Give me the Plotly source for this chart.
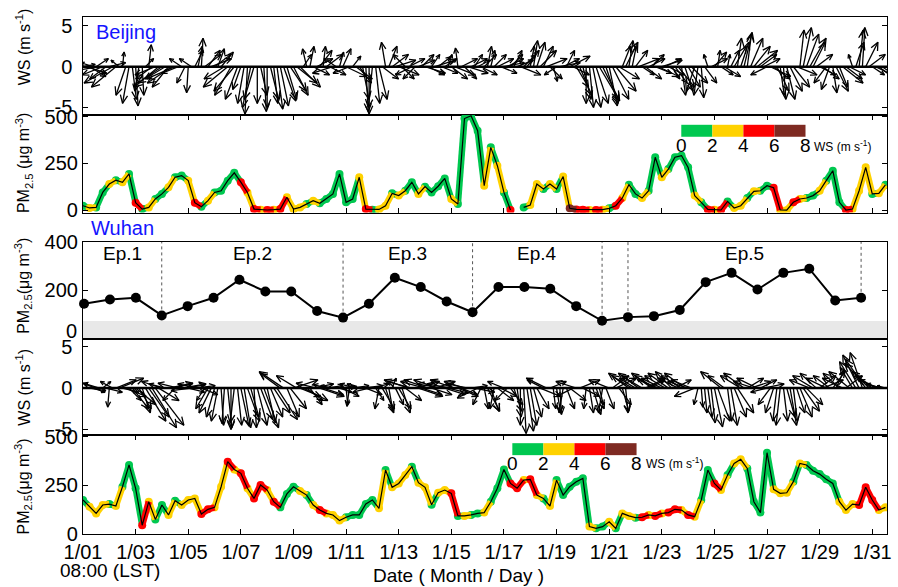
import math
import plotly.graph_objects as go

# ---------------- data ----------------
# series sampled every 6 h, starting 1/01 08:00 LST (hours since start)
hours = list(range(0, 733, 6))
# extra wind readings taken half-way (3 h later) between the 6-hourly ones
hours_mid = list(range(3, 730, 6))

bj_pm = [24, 12, 15, 95, 140, 160, 149, 194, 40, 6,
         15, 60, 87, 122, 176, 185, 158, 40, 19, 51,
         95, 104, 158, 200, 150, 95, 6, 3, 1, 3,
         6, 69, 6, 15, 33, 51, 37, 60, 87, 194,
         42, 60, 176, 6, 3, 4, 24, 90, 78, 104,
         149, 87, 126, 95, 128, 170, 60, 33, 490, 505,
         425, 131, 336, 238, 95, 1, None, 15, 28, 140,
         113, 140, 113, 180, 10, 4, 3, 1, 1, 3,
         10, 24, 65, 136, 87, 65, 104, 283, 176, 220,
         283, 292, 229, 78, 42, 4, 3, 1, 47, 12,
         24, 65, 101, 104, 131, 120, 1, 0, 42, 60,
         65, 78, 104, 158, 211, 42, 1, 6, 104, 229,
         87, 90, 136]
bj_ws = [1, 3, 1, 1, 3, 1, 3, 1, 5, 1,
         3, 1, 1, 3, 1, 1, 3, 5, 1, 3,
         1, 1, 1, 1, 5, 3, 5, 3, 5, 3,
         5, 3, 3, 3, 1, 3, 1, 1, 1, 1,
         1, 1, 3, 5, 1, 3, 3, 1, 3, 1,
         1, 3, 1, 1, 1, 1, 3, 1, 1, 1,
         1, 3, 1, 3, 1, 5, None, 1, 3, 3,
         1, 3, 1, 3, 7, 5, 5, 3, 5, 3,
         1, 5, 3, 1, 1, 3, 1, 1, 3, 1,
         1, 1, 1, 3, 1, 5, 3, 5, 1, 3,
         3, 1, 3, 1, 1, 5, 3, 3, 5, 3,
         1, 1, 3, 1, 1, 1, 5, 3, 3, 3,
         1, 3, 1]
bj_u = [1.5, 2.0, 1.5, -2.5, 2.0, -3.0, 0.2, -0.8, 0.3, 0.2,
        0.3, -2.5, -3.0, -2.0, -3.5, -1.5, -0.2, 1.0, 0.2, 1.5,
        2.0, 1.5, -3.0, -2.5, -1.0, -0.3, -1.2, 0.8, 0.0, 0.5,
        1.0, 1.2, 1.8, 2.5, -0.5, 2.0, 1.5, 2.0, -2.5, 0.5,
        2.5, 1.0, 1.5, 0.3, -0.5, 1.0, -0.5, 2.0, 2.5, -1.5,
        -2.0, 2.0, 2.5, 1.0, 1.5, 1.5, 2.0, -0.3, 1.5, 2.0,
        1.5, 1.5, 0.5, 2.0, 2.5, 1.5, 2.0, 1.5, 0.5, 1.0,
        1.2, 1.5, -1.5, 2.0, 2.5, 1.5, 1.0, 0.5, 1.5, 2.0,
        1.0, 2.5, 1.0, 0.5, 1.5, 1.5, 2.0, 2.0, 2.5, 2.0,
        1.5, 0.5, 1.5, -1.0, 0.3, -0.5, 1.5, 1.5, 0.3, 1.5,
        1.0, 0.5, 2.0, 2.0, -2.0, 2.0, 0.5, 1.0, 2.0, 0.5,
        1.5, 1.5, 2.0, -1.5, 0.5, 1.0, 2.0, -0.5, 0.5, 1.5,
        1.5, 2.0, 1.0]
bj_v = [0.3, -1.2, 1.0, -1.0, 0.5, -2.5, 1.8, -4.5, -4.8, -3.5,
        2.7, -1.0, -2.0, -2.5, -1.5, 1.0, -3.2, 2.0, 3.5, 2.0,
        1.5, 1.8, -2.5, -3.0, -2.8, -5.8, -4.0, -3.5, -5.0, -4.5,
        -4.8, -4.0, -3.5, -2.5, 2.2, -1.0, 2.0, 1.5, -0.8, 1.8,
        -1.2, 1.3, -2.0, -5.5, -5.0, -4.0, 3.0, 1.5, -1.0, 1.5,
        -1.0, 0.8, -0.8, 1.5, 1.2, 1.0, -1.5, 2.3, -1.5, 1.0,
        0.8, 1.5, 2.0, 1.0, 0.5, 1.5, 0.8, 1.5, 2.5, 3.0,
        2.5, -1.5, -1.0, 1.0, 1.3, -2.5, -4.0, -5.0, -4.5, -4.0,
        -4.8, -3.0, 2.5, 3.2, 2.0, -1.0, 1.0, -0.8, 0.8, -1.0,
        -2.0, -3.5, -2.5, -3.0, -3.8, 1.5, 1.8, -1.0, 1.5, 2.5,
        3.0, 4.0, 2.5, 1.5, -1.0, -1.5, -3.5, -4.0, -2.5, 4.5,
        4.0, 3.0, -1.0, -2.0, -3.2, -2.5, -1.5, 1.5, 4.5, 3.0,
        -1.0, -1.5, -0.5]
bj_u_mid = [2.5, -1.5, -3.0, -2.0, -3.5, -1.0, -1.2, 0.5, -0.5, 1.0,
            -2.0, -3.0, -2.5, -3.0, -2.0, -1.0, -1.5, 0.5, 2.0, 2.5,
            0.8, -2.5, -2.0, -1.5, -0.8, -1.0, 0.0, 0.3, 1.0, 0.7,
            1.5, 2.0, 2.5, 1.0, 0.5, 2.0, 0.3, 2.0, -1.5, 1.0,
            -2.0, 2.0, 0.8, 0.0, 0.5, 2.0, 1.0, 2.5, 1.5, 2.0,
            -1.5, 1.5, 2.0, 2.5, 2.0, 0.5, 2.5, 2.0, 2.5, 1.0,
            2.0, 0.5, 1.5, 2.0, 2.0, 1.0, 2.5, 1.5, 0.5, 2.0,
            2.5, 0.5, 2.5, 1.0, 2.0, 1.5, 0.0, 1.0, 2.5, 1.5,
            2.0, 2.5, 1.5, 0.5, 2.5, 2.0, 1.5, 2.5, 2.0, 1.0,
            2.0, 1.0, 2.0, -0.5, 1.5, 2.0, 0.3, 2.0, 1.0, 0.5,
            1.0, 1.5, 2.5, 2.0, 2.5, 1.5, 0.3, 1.5, 2.5, 1.0,
            2.0, 2.0, 2.0, -1.0, 1.5, 2.5, 2.0, 1.0, 0.3, 2.0,
            2.5, 1.5]
bj_v_mid = [-0.8, 0.5, -0.5, -1.5, -2.0, 0.8, -3.5, -4.0, -3.0, 1.0,
            -1.5, -2.5, -1.5, -2.0, -0.8, -2.0, 1.0, 2.5, 1.5, 1.0,
            2.2, -1.5, -3.5, -4.0, -4.5, -5.0, -4.5, -5.5, -4.0, -5.2,
            -4.2, -3.0, -2.0, 1.5, 2.5, 1.0, 2.5, -1.0, 1.0, 2.2,
            -0.8, -1.5, -4.0, -5.8, -4.5, -1.5, 2.5, 0.8, -1.5, 1.0,
            -1.5, 1.5, -1.0, 0.8, -0.8, 1.5, -1.0, 1.0, -0.8, 1.5,
            -1.0, 2.5, 1.5, -0.8, 1.0, 2.0, -1.0, 2.0, 3.2, 2.0,
            1.0, -1.8, 0.5, 2.0, -1.0, -3.5, -4.5, -5.0, -4.2, -4.5,
            -4.0, -1.5, 3.0, 2.5, 1.0, -1.5, 1.5, -1.2, 1.0, -1.5,
            -2.5, -3.0, -2.0, -3.5, -2.0, 1.0, 2.0, -1.2, 2.0, 3.5,
            4.2, 3.5, 2.0, 1.0, -1.2, -3.0, -4.0, -3.0, -1.0, 4.8,
            3.5, 1.5, -1.5, -2.8, -3.0, -2.0, -1.0, 3.0, 4.8, 1.5,
            -1.2, -1.0]

wh_pm = [175, 140, 106, 149, 154, 144, 243, 355, 235, 45,
         166, 75, 149, 98, 171, 149, 175, 183, 103, 127,
         137, 243, 372, 332, 312, 235, 183, 252, 226, 166,
         137, 206, 243, 221, 200, 149, 123, 106, 98, 69,
         86, 98, 98, 154, 175, 132, 329, 240, 260, 303,
         346, 264, 240, 150, 212, 226, 209, 93, 93, 98,
         106, 110, 166, 235, 332, 260, 235, 277, 281, 200,
         183, 144, 277, 200, 243, 269, 286, 38, 29, 38,
         63, 29, 106, 93, 84, 86, 98, 93, 106, 110,
         127, 123, 98, 89, 175, 329, 260, 226, 303, 363,
         384, 337, 166, 110, 418, 230, 209, 212, 269, 363,
         355, 325, 308, 281, 260, 166, 123, 154, 149, 240,
         175, 123, 137]
wh_ws = [1, 3, 3, 3, 1, 3, 1, 1, 1, 5,
         3, 1, 1, 3, 1, 3, 3, 3, 5, 5,
         3, 3, 5, 3, 5, 3, 5, 5, 3, 5,
         1, 1, 1, 3, 1, 3, 5, 3, 3, 3,
         1, 1, 1, 1, 1, 3, 1, 3, 3, 3,
         1, 3, 3, 1, 3, 3, 5, 1, 3, 1,
         1, 3, 1, 1, 1, 5, 5, 3, 5, 3,
         1, 3, 1, 1, 1, 1, 1, 3, 1, 1,
         3, 1, 3, 3, 1, 5, 3, 5, 3, 5,
         5, 3, 5, 3, 1, 1, 5, 3, 1, 3,
         3, 1, 1, 1, 1, 3, 3, 3, 1, 3,
         1, 1, 1, 1, 1, 3, 3, 3, 5, 5,
         5, 3, 3]
wh_u = [-1.0, 2.0, -1.5, 1.0, -0.2, 2.5, 2.0, 1.5, 2.5, 1.0,
        2.5, 3.5, -2.5, 3.0, -1.5, 3.0, 2.0, 2.5, 2.0, -1.5,
        -1.0, 0.3, 0.5, -0.5, 1.0, 1.5, 0.3, 1.5, 1.0, 2.0,
        -2.5, 1.5, 3.0, 2.5, 2.0, 2.5, 3.0, 2.0, -1.5, 1.5,
        0.2, 2.0, -1.5, 2.0, 2.0, -0.5, 1.0, 0.5, 1.5, 2.0,
        -3.0, 3.0, -3.0, 2.5, -3.0, 2.5, -3.0, 2.5, -2.5, 2.0,
        -2.5, 0.5, 1.0, 2.0, -2.0, 1.5, 0.5, 0.3, 0.8, 1.5,
        -2.0, 2.0, 0.5, -0.5, 2.0, -2.5, 2.0, 0.5, 1.0, -0.5,
        -2.5, 2.5, 0.8, -2.5, -2.0, -2.5, 2.0, -2.5, -2.5, -2.5,
        2.0, -2.5, -2.5, -2.5, 0.2, 0.5, 1.0, -2.5, 0.5, 1.5,
        -2.5, 2.0, -2.5, 2.0, -2.0, -1.0, -0.5, 1.0, 0.5, 1.5,
        2.0, -2.5, 2.0, -2.5, 1.5, -2.0, 2.0, -1.5, -2.0, -2.5,
        -2.5, -2.5, -1.0]
wh_v = [0.5, -0.3, 0.5, 0.8, -2.3, 1.0, -0.5, -1.5, -2.0, -3.0,
        -3.5, -4.5, 0.8, 0.6, -1.5, 0.5, -0.5, 0.3, -0.8, -2.5,
        -3.5, -4.5, -4.8, -4.2, -4.6, -4.0, -4.8, -3.8, -4.2, -3.0,
        1.8, -3.5, 1.0, -1.0, -1.5, 0.5, -1.0, 0.3, 0.3, -0.5,
        -2.0, 0.3, 0.5, -0.8, 0.5, -2.5, -3.0, 1.2, -2.5, -1.5,
        0.8, -1.0, 0.8, -0.8, 1.0, -0.8, 0.5, -1.0, 0.8, 0.3,
        -1.2, -2.5, -2.8, -1.5, 0.8, -2.0, -3.5, -5.5, -4.5, -2.5,
        1.0, 0.8, -3.0, -3.0, -1.5, 0.8, -1.0, -3.0, -2.5, -3.0,
        1.0, 1.2, -2.8, 1.8, 1.2, 1.5, 1.0, 1.5, 1.2, 1.8,
        1.0, 1.5, 0.8, -1.0, -2.3, -3.5, -4.7, 2.0, -4.0, -3.5,
        1.5, 1.2, 0.8, 1.0, -0.5, -3.0, -4.5, -3.5, -4.0, -3.5,
        -2.0, 1.5, 1.5, 1.2, 2.0, 1.8, 1.5, 2.5, 4.0, 3.5,
        2.0, 1.0, 0.3]
wh_u_mid = [-2.0, 1.5, -2.0, 2.0, -1.5, 3.0, 2.5, 2.0, 1.5, 2.5,
            3.0, 2.5, -2.0, 2.5, -2.5, 2.5, -2.5, -2.5, -1.0, -1.5,
            -0.8, -0.3, 0.0, 0.5, 0.8, 1.0, 1.2, 1.8, 1.5, 2.5,
            -3.0, 2.0, -2.5, 3.0, 1.5, -2.5, 2.5, -2.0, 2.5, 2.0,
            -0.3, -2.0, 2.5, -2.0, 1.0, 1.5, 0.5, 1.0, 1.0, -3.0,
            3.0, 2.5, -3.0, 2.5, -3.0, 2.5, -3.0, 2.0, -2.5, 2.5,
            -1.0, 1.5, -0.5, 2.0, -1.5, 1.0, 0.0, 0.8, 1.0, 2.5,
            -2.5, 0.3, 0.2, 1.0, -2.0, 2.5, -0.3, 1.0, 0.5, 1.0,
            2.0, 1.5, 0.3, -2.5, -2.5, 2.5, -2.5, -2.5, -2.5, -2.0,
            -2.5, -2.5, -2.5, -0.5, 0.3, 0.5, 1.5, -2.0, 0.8, 2.0,
            -2.5, 2.5, -2.5, 2.5, -1.5, -0.5, 0.5, 0.8, 1.0, 2.0,
            -2.5, -2.0, 2.5, -2.0, 1.0, -2.5, -2.5, -2.0, -1.5, -3.0,
            -2.5, -2.0]
wh_v_mid = [0.3, -0.5, 0.6, -0.5, 0.8, 1.2, -1.0, -2.5, -2.5, -4.0,
            -4.8, -1.5, 0.5, 0.5, 0.6, 0.4, -0.3, 0.5, -1.5, -3.0,
            -4.0, -4.3, -5.0, -4.5, -4.8, -3.5, -4.5, -4.8, -3.5, -3.8,
            2.0, -2.5, 1.5, -1.5, -2.0, 0.6, -0.8, 0.4, 0.2, -1.0,
            -2.2, 0.5, 0.3, -0.5, -1.5, -2.5, -2.8, -2.0, -3.0, 1.0,
            0.8, -0.8, 1.0, 0.8, 0.5, -0.6, 1.0, -0.8, 0.5, -0.5,
            -2.0, -2.8, -2.5, -1.0, -1.5, -2.8, -4.5, -5.2, -3.5, -1.0,
            1.2, -2.5, -3.2, -2.5, -1.0, 1.0, -2.5, -3.2, -2.0, -2.5,
            1.5, -2.0, -3.0, 1.5, 1.8, 1.2, 1.8, 1.0, 1.5, 2.0,
            1.2, 1.8, 1.0, -2.0, -3.0, -4.2, -4.0, 1.5, -4.5, -3.0,
            1.8, 0.8, 1.2, 0.5, -2.0, -4.0, -4.0, -4.5, -3.0, -2.8,
            1.0, 1.8, 1.0, 1.5, 2.2, 1.2, 2.0, 3.2, 4.3, 3.0,
            1.5, 0.5]

# daily mean PM2.5 in Wuhan (day of January)
day_num = list(range(1, 32))
wh_daily = [146, 163, 170, 98, 136, 170, 244, 196, 196, 116,
            89, 146, 252, 214, 155, 111, 214, 214, 207, 136,
            76, 91, 95, 120, 234, 272, 204, 272, 289, 159, 170]
ep_names = ["Ep.1", "Ep.2", "Ep.3", "Ep.4", "Ep.5"]
ep_start = [1, 4, 11, 16, 22]
ep_end = [4, 11, 16, 21, 31]
ep_lines = [4, 11, 16, 21, 22, 31]
pm_standard = 75

tick_days = list(range(0, 31, 2))
tick_text = ["1/01", "1/03", "1/05", "1/07", "1/09", "1/11", "1/13", "1/15",
             "1/17", "1/19", "1/21", "1/23", "1/25", "1/27", "1/29", "1/31"]

ws_bins = [0, 2, 4, 6, 8]
ws_colors = ["#00C850", "#FFD200", "#FF0000", "#7E2A22"]

# ---------------- layout helpers ----------------
W, H = 898, 587
PL, PR, PT, PB = 83, 892, 16, 534
FONT = "Liberation Sans, Arial, sans-serif"


def fx(px):
    return (px - PL) / (PR - PL)


def fy(py):
    return (PB - py) / (PB - PT)


t_days = [h / 24 for h in hours]
t_mid = [h / 24 for h in hours_mid]
XR = [0, 30.56]
KX = (PR - PL) / (XR[1] - XR[0])   # px per day
SX = 8.2 / KX                       # days per (m/s) for arrow length


def ws_class(w):
    for i in range(4):
        if w < ws_bins[i + 1]:
            return i
    return 3


def arrows(t, u, v, ky):
    xs, ys = [], []
    for ti, ui, vi in zip(t, u, v):
        x1, y1 = ti + ui * SX, vi
        xs += [ti, x1, None]
        ys += [0, y1, None]
        dxp, dyp = ui * SX * KX, vi * ky
        lp = math.hypot(dxp, dyp)
        if lp > 0:
            h = min(0.32 * lp, 9)
            ang = math.atan2(dyp, dxp)
            hx, hy = [], []
            for s in (1, -1):
                a = ang + math.pi + s * math.radians(24)
                hx.append(x1 + h * math.cos(a) / KX)
                hy.append(y1 + h * math.sin(a) / ky)
            xs += [hx[0], x1, hx[1], None]
            ys += [hy[0], y1, hy[1], None]
    return xs, ys


fig = go.Figure()

dom = {1: [fy(114), fy(PT)], 2: [fy(212), fy(114)], 3: [fy(339), fy(241)],
       4: [fy(435), fy(339)], 5: [0, fy(435)]}
yr = {1: [-5.9, 6.1], 2: [-13, 510], 3: [0, 400], 4: [-5.7, 5.9], 5: [0, 508]}
ytv = {1: [-5, 0, 5], 2: [0, 250, 500], 3: [0, 200, 400], 4: [-5, 0, 5], 5: [0, 250, 500]}
ytt = {1: ["-5", "0", "5"], 2: ["0", "250", "500"], 3: ["", "200", "400"],
       4: ["-5", "0", "5"], 5: ["0", "250", "500"]}

# wind arrows
wind = {1: (bj_u, bj_v, bj_u_mid, bj_v_mid), 4: (wh_u, wh_v, wh_u_mid, wh_v_mid)}
for idx, (uu, vv, um, vm) in wind.items():
    ky = (dom[idx][1] - dom[idx][0]) * (PB - PT) / (yr[idx][1] - yr[idx][0])
    xs, ys = arrows(t_days + t_mid, uu + um, vv + vm, ky)
    fig.add_trace(go.Scatter(x=xs, y=ys, mode="lines",
                             line=dict(color="black", width=1.3),
                             xaxis=f"x{idx}", yaxis=f"y{idx}", showlegend=False))
    fig.add_trace(go.Scatter(x=[XR[0], XR[1]], y=[0, 0], mode="lines",
                             line=dict(color="black", width=2.5),
                             xaxis=f"x{idx}", yaxis=f"y{idx}", showlegend=False))

# PM2.5 series with WS-coloured band + markers
for idx, (pm, ws) in ((2, (bj_pm, bj_ws)), (5, (wh_pm, wh_ws))):
    for ci, col in enumerate(ws_colors):
        sx_, sy_ = [], []
        for k in range(len(pm) - 1):
            if pm[k] is None or pm[k + 1] is None or ws[k] is None:
                continue
            if ws_class(ws[k]) == ci:
                sx_ += [t_days[k], t_days[k + 1], None]
                sy_ += [pm[k], pm[k + 1], None]
        sel = [k for k in range(len(pm)) if pm[k] is not None and ws[k] is not None
               and ws_class(ws[k]) == ci]
        fig.add_trace(go.Scatter(x=sx_, y=sy_, mode="lines",
                                 line=dict(color=col, width=6.5),
                                 xaxis=f"x{idx}", yaxis=f"y{idx}", showlegend=False))
        fig.add_trace(go.Scatter(x=[t_days[k] for k in sel], y=[pm[k] for k in sel],
                                 mode="markers", marker=dict(size=8, color=col, line=dict(width=0)),
                                 xaxis=f"x{idx}", yaxis=f"y{idx}", showlegend=False))
    fig.add_trace(go.Scatter(x=t_days, y=pm, mode="lines",
                             line=dict(color="black", width=1.2),
                             xaxis=f"x{idx}", yaxis=f"y{idx}", showlegend=False))

# daily Wuhan
fig.add_trace(go.Scatter(x=day_num, y=wh_daily, mode="lines+markers",
                         line=dict(color="black", width=2),
                         marker=dict(size=10, color="black"),
                         xaxis="x3", yaxis="y3", showlegend=False, cliponaxis=False))

shapes = []
shapes.append(dict(type="rect", xref="x3 domain", yref="y3", x0=0, x1=1, y0=0, y1=pm_standard,
                   fillcolor="#E8E8E8", line=dict(width=0), layer="below"))
for d in ep_lines:
    shapes.append(dict(type="line", xref="x3", yref="y3", x0=d, x1=d,
                       y0=wh_daily[day_num.index(d)], y1=yr[3][1],
                       line=dict(color="#555555", width=1, dash="dot"), layer="below"))

annotations = []
for name, s, e in zip(ep_names, ep_start, ep_end):
    annotations.append(dict(x=(s + e) / 2, y=fy(253), xref="x3", yref="paper", text=name,
                            showarrow=False, font=dict(size=19, color="black"),
                            xanchor="center", yanchor="middle"))

# the "0" label of the daily panel sits just above the panel below it
annotations.append(dict(x=fx(79), y=fy(331), xref="paper", yref="paper", text="0",
                        showarrow=False, font=dict(size=20), xanchor="right", yanchor="middle"))

# WS colour legends
for (bx0, by0, lbly) in ((685, 124, 145), (515, 443, 463)):
    seg = 125 / 4
    for i, c in enumerate(ws_colors):
        shapes.append(dict(type="rect", xref="paper", yref="paper",
                           x0=fx(bx0 + i * seg), x1=fx(bx0 + (i + 1) * seg),
                           y0=fy(by0 + 12), y1=fy(by0), fillcolor=c, line=dict(width=0)))
    for i, b in enumerate(ws_bins):
        annotations.append(dict(x=fx(bx0 + i * seg), y=fy(lbly), xref="paper", yref="paper",
                                text=str(b), showarrow=False, font=dict(size=19),
                                xanchor="center", yanchor="middle"))
    annotations.append(dict(x=fx(bx0 + 132), y=fy(lbly), xref="paper", yref="paper",
                            text="WS (m s<sup>-1</sup>)", showarrow=False, font=dict(size=12),
                            xanchor="left", yanchor="middle"))

# city labels
annotations.append(dict(x=fx(94), y=fy(31), xref="paper", yref="paper", text="Beijing",
                        showarrow=False, font=dict(size=20, color="#1414FF"),
                        xanchor="left", yanchor="middle"))
annotations.append(dict(x=fx(89), y=fy(227), xref="paper", yref="paper", text="Wuhan",
                        showarrow=False, font=dict(size=20, color="#1414FF"),
                        xanchor="left", yanchor="middle"))

# y-axis titles
ytitles = [("WS (m s<sup>-1</sup>)", 46), ("PM<sub>2.5</sub> (μg m<sup>-3</sup>)", 162),
           ("PM<sub>2.5</sub>(μg m<sup>-3</sup>)", 285), ("WS (m s<sup>-1</sup>)", 387),
           ("PM<sub>2.5</sub>(μg m<sup>-3</sup>)", 486)]
for txt, yc in ytitles:
    annotations.append(dict(x=fx(23), y=fy(yc), xref="paper", yref="paper", text=txt,
                            textangle=-90, showarrow=False, font=dict(size=16),
                            xanchor="center", yanchor="middle"))

annotations.append(dict(x=fx(110), y=fy(571), xref="paper", yref="paper", text="08:00 (LST)",
                        showarrow=False, font=dict(size=19), xanchor="center", yanchor="middle"))
annotations.append(dict(x=fx(461), y=fy(576), xref="paper", yref="paper",
                        text="Date ( Month / Day )", showarrow=False, font=dict(size=19),
                        xanchor="center", yanchor="middle"))

layout = dict(width=W, height=H, margin=dict(l=PL, r=W - PR, t=PT, b=H - PB),
              paper_bgcolor="white", plot_bgcolor="white",
              font=dict(family=FONT, size=19, color="black"),
              shapes=shapes, annotations=annotations, showlegend=False)

for i in range(1, 6):
    xa = dict(domain=[0, 1], anchor=f"y{i}", showgrid=False, zeroline=False,
              showline=True, linecolor="black", linewidth=1.2, mirror=True)
    if i == 3:
        xa.update(range=[0.96, 32.0], ticks="", showticklabels=False)
    else:
        xa.update(range=XR, tickvals=tick_days, ticktext=tick_text)
        if i in (2, 5):
            xa.update(ticks="inside", ticklen=5, tickwidth=1.2, tickcolor="black", mirror="ticks")
        else:
            xa.update(ticks="")
        xa.update(showticklabels=(i == 5), tickfont=dict(size=20))
    layout[f"xaxis{i if i > 1 else ''}"] = xa
    ya = dict(domain=dom[i], anchor=f"x{i}", range=yr[i], tickvals=ytv[i], ticktext=ytt[i],
              showgrid=False, zeroline=False, showline=True, linecolor="black", linewidth=1.2,
              mirror="ticks", ticks="inside", ticklen=5, tickwidth=1.2, tickcolor="black",
              tickfont=dict(size=20))
    if i in (1, 4):
        ya.update(ticktext=[s + "\u00a0" for s in ytt[i]])
    layout[f"yaxis{i if i > 1 else ''}"] = ya

fig.update_layout(**layout)
fig.write_html("out.html", config={"displayModeBar": False},
               post_script="document.body.style.margin='0';document.body.style.overflow='hidden';")
